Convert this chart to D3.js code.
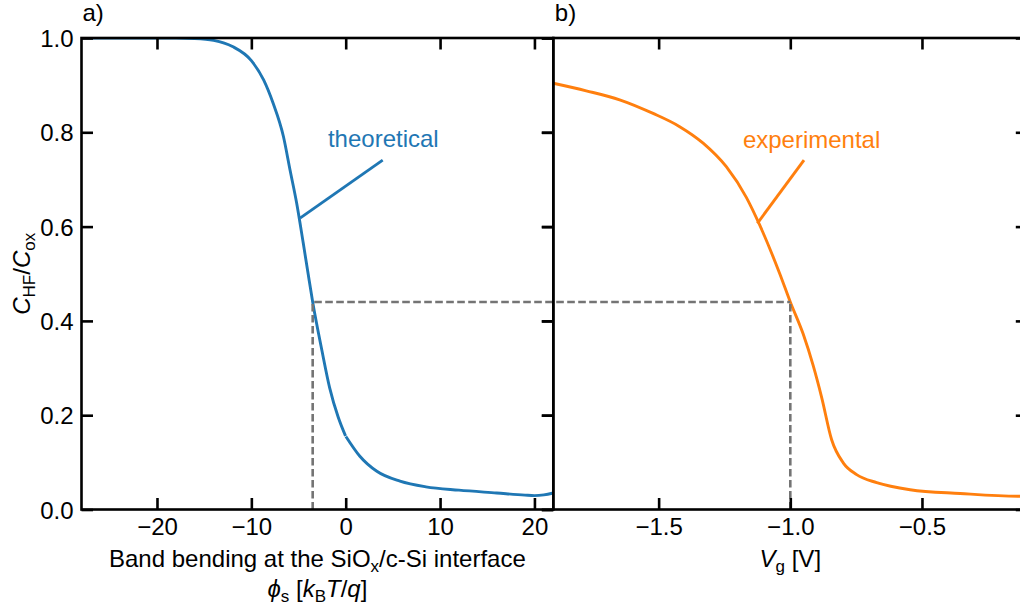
<!DOCTYPE html>
<html>
<head>
<meta charset="utf-8">
<script src="https://cdn.jsdelivr.net/npm/d3@7"></script>
<style>
  body { margin: 0; background: #fff; }
  svg { display: block; }
  text { font-family: "Liberation Sans", Arial, sans-serif; fill: #000; }
</style>
</head>
<body>
<svg id="chart" width="1020" height="610"></svg>
<script>
// ---- data -------------------------------------------------------------
// (a) theoretical high-frequency capacitance vs. band bending, two branches
const phiBranch1 = [-28, -22, -18, -16, -14, -12, -10, -8.7, -7.7, -6.6, -5.9, -5.2, -4.5, -4.0, -3.5, -2.5, -1.7, -0.8, -0.02];
const chfBranch1 = [1.0, 1.0, 1.0, 0.999, 0.995, 0.982, 0.952, 0.911, 0.862, 0.791, 0.72, 0.65, 0.565, 0.502, 0.44, 0.335, 0.258, 0.196, 0.156];
const phiBranch2 = [0.02, 1.5, 3.3, 5.75, 8.5, 12, 16, 19, 20, 21, 22];
const chfBranch2 = [0.155, 0.113, 0.081, 0.06, 0.048, 0.041, 0.035, 0.0305, 0.0295, 0.031, 0.035];

// (b) measured C-V curve
const gateVoltage = [-1.9, -1.775, -1.648, -1.521, -1.42, -1.331, -1.243, -1.167, -1.116, -1.04, -1.0, -0.951, -0.913, -0.881, -0.843, -0.799, -0.748, -0.672, -0.545, -0.355, -0.128, -0.1];
const chfMeasured = [0.904, 0.888, 0.869, 0.840, 0.812, 0.777, 0.727, 0.662, 0.603, 0.50, 0.44, 0.372, 0.305, 0.238, 0.148, 0.099, 0.074, 0.057, 0.042, 0.034, 0.028, 0.028];

// operating point linking both panels
const markerChf = 0.44;
const markerPhi = -3.5;
const markerVg = -1.0;

// ticks
const phiTicks = [-20, -10, 0, 10, 20];
const vgTicks = [-1.5, -1.0, -0.5];
const chfTicks = [0, 0.2, 0.4, 0.6, 0.8, 1.0];

// annotation anchors (data units)
const theoLabel = { text: "theoretical", x: -1.88, y: 0.769, from: [-4.84, 0.618], to: [3.92, 0.741] };
const expLabel = { text: "experimental", x: -1.18, y: 0.767, from: [-1.125, 0.607], to: [-0.948, 0.741] };

// ---- layout -----------------------------------------------------------
const BLUE = "#1f77b4", ORANGE = "#ff7f0e", DASH = "#747474";
const FONT = 24, TICK = 11.5, SPINE = 2.6;
const plotTop = 38, plotBottom = 509.5;
const aLeft = 81.5, split = 553.3, bRight = 1027.3;

const svg = d3.select("#chart");

const xA = d3.scaleLinear().domain([-28, 22]).range([aLeft, split]);
const xB = d3.scaleLinear().domain([-1.9, -0.1]).range([split, bRight]);
const y = d3.scaleLinear().domain([0, 1]).range([plotBottom, plotTop]);

const defs = svg.append("defs");
defs.append("clipPath").attr("id", "clipA").append("rect")
  .attr("x", aLeft).attr("y", plotTop).attr("width", split - aLeft).attr("height", plotBottom - plotTop);
defs.append("clipPath").attr("id", "clipB").append("rect")
  .attr("x", split).attr("y", plotTop).attr("width", bRight - split).attr("height", plotBottom - plotTop);

// ---- curves -----------------------------------------------------------
const lineA = d3.line().x(d => xA(d[0])).y(d => y(d[1])).curve(d3.curveMonotoneX);
const lineB = d3.line().x(d => xB(d[0])).y(d => y(d[1])).curve(d3.curveMonotoneX);

const gA = svg.append("g").attr("clip-path", "url(#clipA)");
[[phiBranch1, chfBranch1], [phiBranch2, chfBranch2]].forEach(([xs, ys]) => {
  gA.append("path")
    .datum(xs.map((v, i) => [v, ys[i]]))
    .attr("d", lineA)
    .attr("fill", "none").attr("stroke", BLUE).attr("stroke-width", 2.9);
});

const gB = svg.append("g").attr("clip-path", "url(#clipB)");
gB.append("path")
  .datum(gateVoltage.map((v, i) => [v, chfMeasured[i]]))
  .attr("d", lineB)
  .attr("fill", "none").attr("stroke", ORANGE).attr("stroke-width", 2.9);

// ---- dashed guide lines -----------------------------------------------
const guides = svg.append("g")
  .attr("fill", "none").attr("stroke", DASH).attr("stroke-width", 2.6)
  .attr("stroke-dasharray", "7.6,3.4");
guides.append("path").attr("d", d3.line()([[xA(markerPhi), y(0)], [xA(markerPhi), y(markerChf)], [xB(markerVg), y(markerChf)]]));
guides.append("path").attr("d", d3.line()([[xB(markerVg), y(0)], [xB(markerVg), y(markerChf)]]));

// ---- annotations ------------------------------------------------------
function annotate(lbl, xs, color) {
  svg.append("line")
    .attr("x1", xs(lbl.from[0])).attr("y1", y(lbl.from[1]))
    .attr("x2", xs(lbl.to[0])).attr("y2", y(lbl.to[1]))
    .attr("stroke", color).attr("stroke-width", 2.9);
  svg.append("text")
    .attr("x", xs(lbl.x)).attr("y", y(lbl.y))
    .attr("font-size", FONT).style("fill", color)
    .text(lbl.text);
}
annotate(theoLabel, xA, BLUE);
annotate(expLabel, xB, ORANGE);

// ---- axes -------------------------------------------------------------
function styleAxis(g) {
  g.select(".domain").remove();
  g.selectAll(".tick line").attr("stroke", "#000").attr("stroke-width", SPINE);
  g.selectAll(".tick text").attr("font-size", FONT).attr("font-family", "Liberation Sans, Arial, sans-serif").attr("fill", "#000");
}

// panel a
svg.append("g").attr("transform", `translate(0,${plotBottom})`)
  .call(d3.axisBottom(xA).tickValues(phiTicks).tickFormat(d3.format("d")).tickSize(-TICK).tickPadding(8))
  .call(styleAxis);
svg.append("g").attr("transform", `translate(0,${plotTop})`)
  .call(d3.axisTop(xA).tickValues(phiTicks).tickFormat("").tickSize(-TICK))
  .call(styleAxis);
svg.append("g").attr("transform", `translate(${aLeft},0)`)
  .call(d3.axisLeft(y).tickValues(chfTicks).tickFormat(d3.format(".1f")).tickSize(-TICK).tickPadding(8))
  .call(styleAxis)
  .call(g => g.selectAll(".tick text").attr("dy", "0.36em"));
svg.append("g").attr("transform", `translate(${split},0)`)
  .call(d3.axisRight(y).tickValues(chfTicks).tickFormat("").tickSize(-TICK))
  .call(styleAxis);

// panel b
svg.append("g").attr("transform", `translate(0,${plotBottom})`)
  .call(d3.axisBottom(xB).tickValues(vgTicks).tickFormat(d3.format(".1f")).tickSize(-TICK).tickPadding(8))
  .call(styleAxis);
svg.append("g").attr("transform", `translate(0,${plotTop})`)
  .call(d3.axisTop(xB).tickValues(vgTicks).tickFormat("").tickSize(-TICK))
  .call(styleAxis);
svg.append("g").attr("transform", `translate(${split},0)`)
  .call(d3.axisLeft(y).tickValues(chfTicks).tickFormat("").tickSize(TICK))
  .call(styleAxis);
svg.append("g").attr("transform", `translate(${bRight},0)`)
  .call(d3.axisRight(y).tickValues(chfTicks).tickFormat("").tickSize(-TICK))
  .call(styleAxis);

// spines
[[aLeft, split], [split, bRight]].forEach(([l, r]) => {
  svg.append("rect")
    .attr("x", l).attr("y", plotTop).attr("width", r - l).attr("height", plotBottom - plotTop)
    .attr("fill", "none").attr("stroke", "#000").attr("stroke-width", SPINE);
});

// ---- labels -----------------------------------------------------------
svg.append("text").attr("x", aLeft + 1).attr("y", 21).attr("font-size", FONT).text("a)");
svg.append("text").attr("x", split + 1.5).attr("y", 21).attr("font-size", FONT).text("b)");

const SUB = 17, SUBDY = 5;

// y axis label
const yl = svg.append("text")
  .attr("transform", `translate(30,${(plotTop + plotBottom) / 2}) rotate(-90)`)
  .attr("text-anchor", "middle").attr("font-size", FONT);
yl.append("tspan").attr("font-style", "italic").text("C");
yl.append("tspan").attr("font-size", SUB).attr("dy", SUBDY).text("HF");
yl.append("tspan").attr("dy", -SUBDY).text("/");
yl.append("tspan").attr("font-style", "italic").text("C");
yl.append("tspan").attr("font-size", SUB).attr("dy", SUBDY).text("ox");

// x label, panel a (two lines)
const cxA = (aLeft + split) / 2;
const xl1 = svg.append("text").attr("x", cxA).attr("y", 567)
  .attr("text-anchor", "middle").attr("font-size", FONT);
xl1.append("tspan").text("Band bending at the SiO");
xl1.append("tspan").attr("font-size", SUB).attr("dy", SUBDY).text("x");
xl1.append("tspan").attr("dy", -SUBDY).text("/c-Si interface");

const xl2 = svg.append("text").attr("x", cxA).attr("y", 597)
  .attr("text-anchor", "middle").attr("font-size", FONT);
xl2.append("tspan").attr("font-style", "italic").text("ϕ");
xl2.append("tspan").attr("font-size", SUB).attr("dy", SUBDY).text("s");
xl2.append("tspan").attr("dy", -SUBDY).text(" [");
xl2.append("tspan").attr("font-style", "italic").text("k");
xl2.append("tspan").attr("font-size", SUB).attr("dy", SUBDY).text("B");
xl2.append("tspan").attr("dy", -SUBDY).attr("font-style", "italic").text("T");
xl2.append("tspan").text("/");
xl2.append("tspan").attr("font-style", "italic").text("q");
xl2.append("tspan").text("]");

// x label, panel b
const xlb = svg.append("text").attr("x", (split + bRight) / 2).attr("y", 567)
  .attr("text-anchor", "middle").attr("font-size", FONT);
xlb.append("tspan").attr("font-style", "italic").text("V");
xlb.append("tspan").attr("font-size", SUB).attr("dy", SUBDY).text("g");
xlb.append("tspan").attr("dy", -SUBDY).text(" [V]");
</script>
</body>
</html>
